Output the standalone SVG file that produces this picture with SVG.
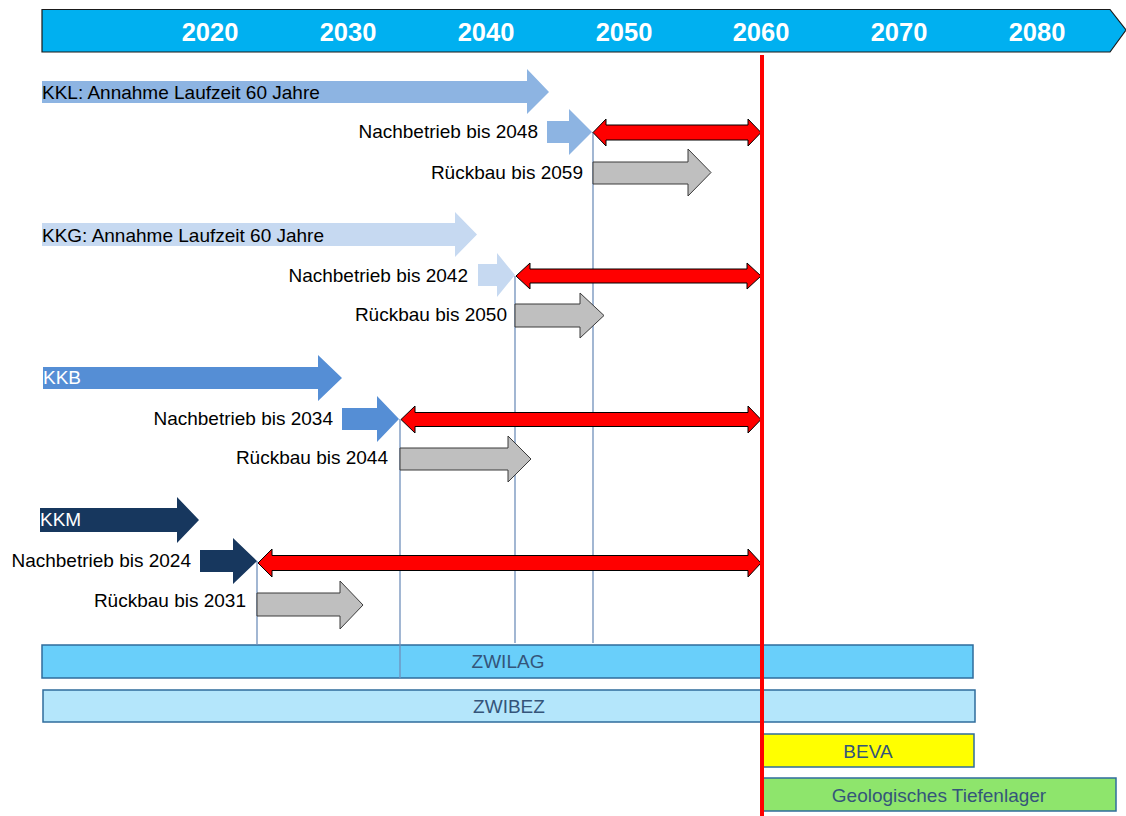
<svg xmlns="http://www.w3.org/2000/svg" width="1126" height="816" viewBox="0 0 1126 816">
<style>
.yr{font-family:"Liberation Sans",Arial,sans-serif;font-size:25.5px;font-weight:bold;fill:#fff;text-anchor:middle}
.lb{font-family:"Liberation Sans",Arial,sans-serif;font-size:19px;fill:#000}
.rt{text-anchor:end}
.wh{fill:#fff}
.bl{font-family:"Liberation Sans",Arial,sans-serif;font-size:19px;fill:#34557a;text-anchor:middle}
.red{fill:#ff0000;stroke:#000;stroke-width:1}
.gray{fill:#bfbfbf;stroke:#3a3a3a;stroke-width:1}
.vl{stroke:#7090bb;stroke-width:1.3;fill:none}
.bar{stroke:#2f6c9c;stroke-width:1.5}
</style>
<rect width="1126" height="816" fill="#fff"/>
<g id="timeline">
<path d="M42,9.5 H1110 L1126,30 L1110,52 H42 Z" fill="#00b0f0" stroke="#1a1a1a" stroke-width="1.2"/>
<text class="yr" x="210" y="41">2020</text>
<text class="yr" x="348" y="41">2030</text>
<text class="yr" x="486" y="41">2040</text>
<text class="yr" x="624" y="41">2050</text>
<text class="yr" x="761" y="41">2060</text>
<text class="yr" x="899" y="41">2070</text>
<text class="yr" x="1037" y="41">2080</text>
</g>
<g id="zwilag">
<rect class="bar" x="42" y="645" width="931" height="33" fill="#69cffa"/>
<text class="bl" x="508" y="668">ZWILAG</text>
</g>
<g id="zwibez">
<rect class="bar" x="43" y="690" width="932" height="32" fill="#b4e6fb"/>
<text class="bl" x="509" y="713">ZWIBEZ</text>
</g>
<g id="beva">
<rect class="bar" x="763" y="734" width="211" height="33" fill="#ffff00"/>
<text class="bl" x="868" y="758">BEVA</text>
</g>
<g id="tiefenlager">
<rect class="bar" x="763" y="778" width="353" height="33" fill="#8ee56c"/>
<text class="bl" x="939" y="802">Geologisches Tiefenlager</text>
</g>
<g id="connectors">
<line class="vl" x1="593" y1="132" x2="593" y2="643"/>
<line class="vl" x1="515" y1="276" x2="515" y2="643"/>
<line class="vl" x1="400" y1="419" x2="400" y2="678"/>
<line class="vl" x1="257" y1="561" x2="257" y2="645" stroke="#2e4e7e"/>
</g>
<g id="kkl">
<polygon points="42,81 527,81 527,69 549,92 527,114 527,103 42,103" fill="#8db4e2"/>
<text class="lb" x="42" y="99">KKL: Annahme Laufzeit 60 Jahre</text>
<polygon points="547,121 569,121 569,109 592,132 569,155 569,143 547,143" fill="#8db4e2"/>
<text class="lb rt" x="538" y="138">Nachbetrieb bis 2048</text>
<polygon class="red" points="593,132.5 606,119 606,125 748,125 748,119 761,132.5 748,146 748,140 606,140 606,146"/>
<polygon class="gray" points="593,162 688,162 688,149 711,172.5 688,196 688,184 593,184"/>
<text class="lb rt" x="583" y="179">Rückbau bis 2059</text>
</g>
<g id="kkg">
<polygon points="42,223 455,223 455,212 477,234.5 455,257 455,246 42,246" fill="#c6d9f1"/>
<text class="lb" x="42" y="242">KKG: Annahme Laufzeit 60 Jahre</text>
<polygon points="478,264 497,264 497,253 515,275 497,297 497,286 478,286" fill="#c6d9f1"/>
<text class="lb rt" x="468" y="282">Nachbetrieb bis 2042</text>
<polygon class="red" points="516,276 530,263 530,269 747,269 747,263 761,276 747,289 747,283 530,283 530,289"/>
<polygon class="gray" points="515,304 580,304 580,293 604,315.5 580,338 580,327 515,327"/>
<text class="lb rt" x="507" y="321">Rückbau bis 2050</text>
</g>
<g id="kkb">
<polygon points="43,367 318,367 318,355 342,378 318,401 318,389 43,389" fill="#558ed5"/>
<text class="lb wh" x="43" y="384">KKB</text>
<polygon points="342,408 377,408 377,396 399,419 377,442 377,430 342,430" fill="#558ed5"/>
<text class="lb rt" x="333" y="425">Nachbetrieb bis 2034</text>
<polygon class="red" points="401,419.5 415,406 415,412.5 748,412.5 748,406 761,419.5 748,433 748,426.5 415,426.5 415,433"/>
<polygon class="gray" points="400,448 508,448 508,436 531,459 508,482 508,470 400,470"/>
<text class="lb rt" x="388" y="464">Rückbau bis 2044</text>
</g>
<g id="kkm">
<polygon points="40,508 177,508 177,497 199,520 177,543 177,532 40,532" fill="#17375e"/>
<text class="lb wh" x="40" y="526">KKM</text>
<polygon points="200,550 233,550 233,538 257,561 233,584 233,572 200,572" fill="#17375e"/>
<text class="lb rt" x="191" y="567">Nachbetrieb bis 2024</text>
<polygon class="red" points="258,563 272,549 272,555.5 748,555.5 748,549 761,563 748,577 748,570.5 272,570.5 272,577"/>
<polygon class="gray" points="257,593 340,593 340,581 363,605 340,629 340,616 257,616"/>
<text class="lb rt" x="246" y="607">Rückbau bis 2031</text>
</g>
<g id="line2060">
<line x1="762" y1="55" x2="762" y2="816" stroke="#ff0000" stroke-width="4"/>
</g>
</svg>
